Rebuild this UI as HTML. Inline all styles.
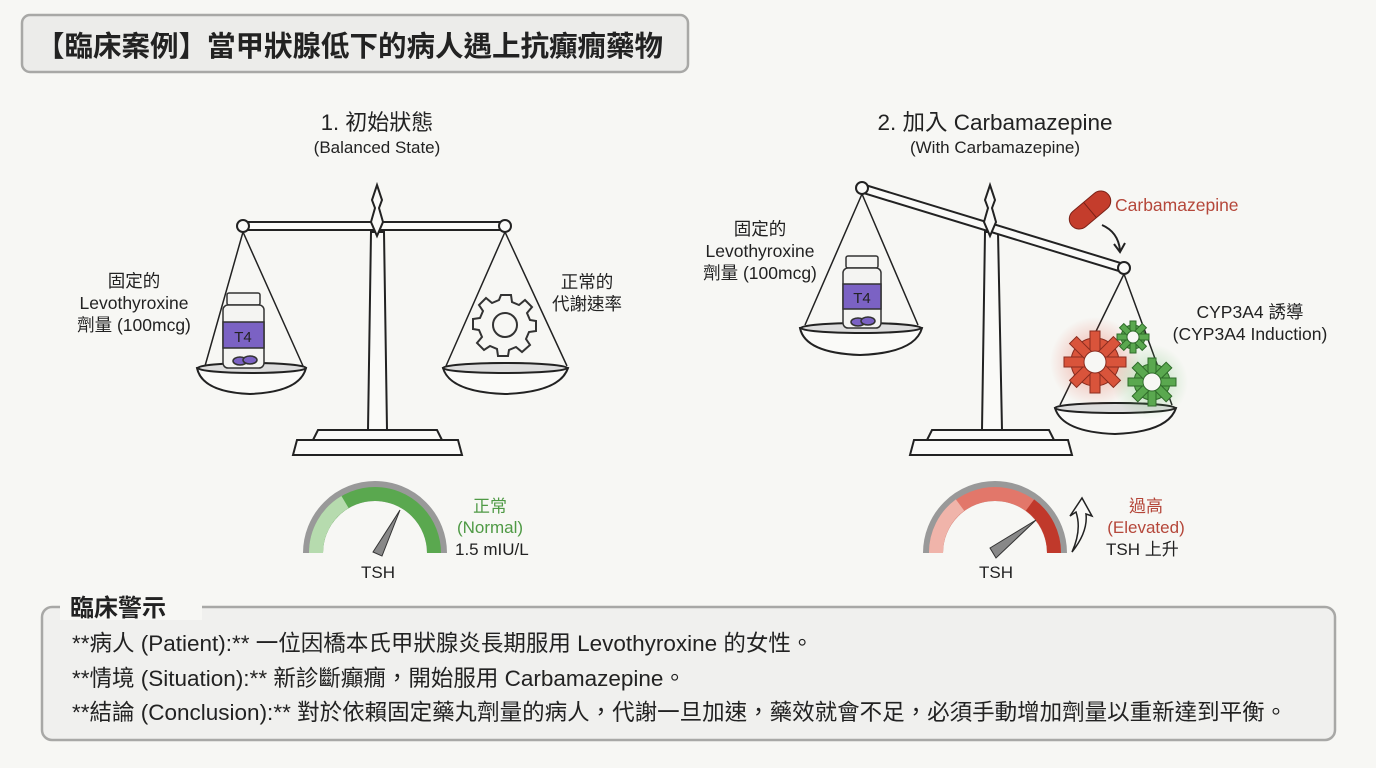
<!DOCTYPE html>
<html><head><meta charset="utf-8"><style>
body{margin:0;background:#f7f7f4;}
svg{display:block}
text{font-family:"Liberation Sans","Noto Sans CJK TC",sans-serif;fill:#222}
</style></head><body>
<svg width="1376" height="768" viewBox="0 0 1376 768" xmlns="http://www.w3.org/2000/svg">
<rect width="1376" height="768" fill="#f7f7f4"/>
<defs>
<radialGradient id="rg"><stop offset="0" stop-color="#e35a45" stop-opacity=".5"/><stop offset="1" stop-color="#e35a45" stop-opacity="0"/></radialGradient>
<radialGradient id="gg"><stop offset="0" stop-color="#5cb85c" stop-opacity=".4"/><stop offset="1" stop-color="#5cb85c" stop-opacity="0"/></radialGradient>
</defs>
<rect x="22" y="15" width="666" height="57" rx="8" fill="#ececea" stroke="#a8a8a6" stroke-width="2.5"/>
<text x="36" y="56" font-size="28.5" font-weight="bold">【臨床案例】當甲狀腺低下的病人遇上抗癲癇藥物</text>

<text x="377" y="130" font-size="22" text-anchor="middle">1. 初始狀態</text>
<text x="377" y="153" font-size="17" text-anchor="middle">(Balanced State)</text>
<text x="995" y="130" font-size="22.5" text-anchor="middle">2. 加入 Carbamazepine</text>
<text x="995" y="153" font-size="17" text-anchor="middle">(With Carbamazepine)</text>

<g fill="#fafaf8" stroke="#222" stroke-width="2">
<path d="M371 232 L368 430 L387 430 L384 232 Z"/>
<path d="M313 440 L318 430 L437 430 L442 440 Z"/>
<path d="M293 455 L297 440 L458 440 L462 455 Z"/>
<path d="M243 222 L505 222 L505 230 L243 230 Z"/>
<path d="M377 185 L382 200 L379 208 L383 222 L377 236 L371 222 L375 208 L372 200 Z"/>
<circle cx="243" cy="226" r="6"/><circle cx="505" cy="226" r="6"/>
<path d="M243 232 L205 366 M243 232 L303 366 M505 232 L446 366 M505 232 L567 366" fill="none" stroke-width="1.5"/>
<path d="M197 368 Q250 358 306 368 Q300 392 250 394 Q202 392 197 368 Z"/>
<ellipse cx="252" cy="368" rx="54" ry="5" fill="#ddd"/>
<path d="M443 368 Q505 358 568 368 Q560 392 505 394 Q450 392 443 368 Z"/>
<ellipse cx="505" cy="368" rx="62" ry="5" fill="#ddd"/>
<path d="M985 232 L982 430 L1002 430 L998 232 Z"/>
<path d="M927 440 L932 430 L1049 430 L1054 440 Z"/>
<path d="M910 455 L914 440 L1068 440 L1072 455 Z"/>
<path d="M862 184 L1124 264 L1122 272 L860 192 Z"/>
<path d="M990 185 L995 200 L992 208 L996 222 L990 236 L984 222 L988 208 L985 200 Z"/>
<circle cx="862" cy="188" r="6"/><circle cx="1124" cy="268" r="6"/>
<path d="M862 194 L805 325 M862 194 L918 325 M1124 274 L1060 405 M1124 274 L1172 405" fill="none" stroke-width="1.5"/>
<path d="M800 328 Q860 318 922 328 Q915 353 860 355 Q805 353 800 328 Z"/>
<ellipse cx="861" cy="328" rx="60" ry="5" fill="#ddd"/>
<path d="M1055 408 Q1115 398 1176 408 Q1168 432 1115 434 Q1062 432 1055 408 Z"/>
<ellipse cx="1115" cy="408" rx="60" ry="5" fill="#ddd"/>
</g>
<g stroke="#333" stroke-width="1.5">
<rect x="227" y="293" width="33" height="12" rx="2" fill="#f4f4f2"/>
<rect x="223" y="305" width="41" height="63" rx="5" fill="#f4f4f2"/>
<rect x="223" y="322" width="41" height="26" fill="#7b62c4"/>
<ellipse cx="240" cy="361" rx="7" ry="4" fill="#7b62c4"/><ellipse cx="250" cy="360" rx="7" ry="4" fill="#7b62c4"/>
<rect x="846" y="256" width="32" height="12" rx="2" fill="#f4f4f2"/>
<rect x="843" y="268" width="38" height="60" rx="5" fill="#f4f4f2"/>
<rect x="843" y="284" width="38" height="25" fill="#7b62c4"/>
<ellipse cx="858" cy="322" rx="7" ry="4" fill="#7b62c4"/><ellipse cx="868" cy="321" rx="7" ry="4" fill="#7b62c4"/>
</g>
<text x="243" y="342" font-size="15" text-anchor="middle">T4</text>
<text x="862" y="303" font-size="15" text-anchor="middle">T4</text>
<g transform="translate(505,325)">
<path d="M-5 -28 L5 -28 L6 -21 L13 -18 L19 -23 L26 -16 L21 -10 L24 -3 L30 -2 L30 8 L23 9 L20 16 L24 22 L16 29 L10 24 L3 27 L2 33 L-8 33 L-9 26 L-16 23 L-22 27 L-29 20 L-24 14 L-27 7 L-33 6 L-33 -4 L-26 -5 L-23 -12 L-27 -18 L-20 -25 L-14 -20 L-7 -23 Z" fill="#f7f7f4" stroke="#333" stroke-width="2" transform="translate(1,-2)"/>
<circle r="12" fill="none" stroke="#333" stroke-width="2"/>
</g>
<circle cx="1095" cy="362" r="45" fill="url(#rg)"/>
<circle cx="1150" cy="382" r="38" fill="url(#gg)"/>
<g fill="#d9543b" stroke="#8a2c1f" stroke-width="1">
<circle cx="1095" cy="362" r="24"/>
<g transform="translate(1095,362)"><rect x="-5" y="-31" width="10" height="62"/><rect x="-5" y="-31" width="10" height="62" transform="rotate(45)"/><rect x="-5" y="-31" width="10" height="62" transform="rotate(90)"/><rect x="-5" y="-31" width="10" height="62" transform="rotate(135)"/></g>
</g>
<circle cx="1095" cy="362" r="11" fill="#f7f7f4" stroke="#8a2c1f"/>
<g fill="#5aa84f" stroke="#2f6b2a" stroke-width="1">
<circle cx="1133" cy="337" r="12"/>
<g transform="translate(1133,337)"><rect x="-3" y="-16" width="6" height="32"/><rect x="-3" y="-16" width="6" height="32" transform="rotate(45)"/><rect x="-3" y="-16" width="6" height="32" transform="rotate(90)"/><rect x="-3" y="-16" width="6" height="32" transform="rotate(135)"/></g>
<circle cx="1152" cy="382" r="18"/>
<g transform="translate(1152,382)"><rect x="-4" y="-24" width="8" height="48"/><rect x="-4" y="-24" width="8" height="48" transform="rotate(45)"/><rect x="-4" y="-24" width="8" height="48" transform="rotate(90)"/><rect x="-4" y="-24" width="8" height="48" transform="rotate(135)"/></g>
</g>
<circle cx="1133" cy="337" r="6" fill="#f7f7f4" stroke="#2f6b2a"/>
<circle cx="1152" cy="382" r="9" fill="#f7f7f4" stroke="#2f6b2a"/>
<g transform="translate(1090,210) rotate(-40)">
<rect x="-24" y="-10" width="48" height="20" rx="10" fill="#c43d2c" stroke="#7a2218"/>
<line x1="0" y1="-10" x2="0" y2="10" stroke="#7a2218"/>
</g>
<path d="M1102 225 Q1118 232 1120 250" fill="none" stroke="#222" stroke-width="2"/>
<path d="M1114 244 L1120 252 L1125 243" fill="none" stroke="#222" stroke-width="2"/>
<text x="1115" y="211" font-size="17.5" style="fill:#b5473a">Carbamazepine</text>

<g font-size="17.5" text-anchor="middle">
<text x="134" y="287">固定的</text><text x="134" y="309">Levothyroxine</text><text x="134" y="331">劑量 (100mcg)</text>
<text x="587" y="288">正常的</text><text x="587" y="310">代謝速率</text>
<text x="760" y="235">固定的</text><text x="760" y="257">Levothyroxine</text><text x="760" y="279">劑量 (100mcg)</text>
<text x="1250" y="318">CYP3A4 誘導</text><text x="1250" y="340">(CYP3A4 Induction)</text>
</g>

<g>
<path d="M313 553 A62 62 0 0 1 437 553" fill="none" stroke="#999" stroke-width="20"/>
<path d="M316 553 A59 59 0 0 1 434 553" fill="none" stroke="#5aa84f" stroke-width="14"/>
<path d="M316 553 A59 59 0 0 1 345 502" fill="none" stroke="#b6dbae" stroke-width="14"/>
<path d="M373 552 L400 510 L382 556 Z" fill="#888" stroke="#333"/>
<text x="378" y="578" font-size="17" text-anchor="middle">TSH</text>
<text x="490" y="512" font-size="17" text-anchor="middle" style="fill:#4f9a45">正常</text>
<text x="490" y="533" font-size="17" text-anchor="middle" style="fill:#4f9a45">(Normal)</text>
<text x="455" y="555" font-size="17">1.5 mIU/L</text>

<path d="M933 553 A62 62 0 0 1 1057 553" fill="none" stroke="#999" stroke-width="20"/>
<path d="M936 553 A59 59 0 0 1 1054 553" fill="none" stroke="#e2776a" stroke-width="14"/>
<path d="M1030 505 A59 59 0 0 1 1054 553" fill="none" stroke="#c0392b" stroke-width="14"/>
<path d="M936 553 A59 59 0 0 1 960 505" fill="none" stroke="#f0b4aa" stroke-width="14"/>
<path d="M990 548 L1036 520 L996 558 Z" fill="#888" stroke="#333"/>
<text x="996" y="578" font-size="17" text-anchor="middle">TSH</text>
<path d="M1072 552 Q1082 530 1076 512 L1070 516 L1082 498 L1092 516 L1086 514 Q1088 532 1072 552 Z" fill="#fafaf8" stroke="#222" stroke-width="1.5"/>
<text x="1146" y="512" font-size="17" text-anchor="middle" style="fill:#b5473a">過高</text>
<text x="1146" y="533" font-size="17" text-anchor="middle" style="fill:#b5473a">(Elevated)</text>
<text x="1106" y="555" font-size="17">TSH 上升</text>
</g>

<rect x="42" y="607" width="1293" height="133" rx="10" fill="#f0f0ee" stroke="#a8a8a6" stroke-width="2.5"/>
<rect x="60" y="592" width="142" height="28" fill="#f7f7f4"/>
<text x="70" y="616" font-size="24" font-weight="bold">臨床警示</text>
<g font-size="22.5">
<text x="72" y="651">**病人 (Patient):** 一位因橋本氏甲狀腺炎長期服用 Levothyroxine 的女性。</text>
<text x="72" y="686">**情境 (Situation):** 新診斷癲癇，開始服用 Carbamazepine。</text>
<text x="72" y="720">**結論 (Conclusion):** 對於依賴固定藥丸劑量的病人，代謝一旦加速，藥效就會不足，必須手動增加劑量以重新達到平衡。</text>
</g>
</svg>
</body></html>
